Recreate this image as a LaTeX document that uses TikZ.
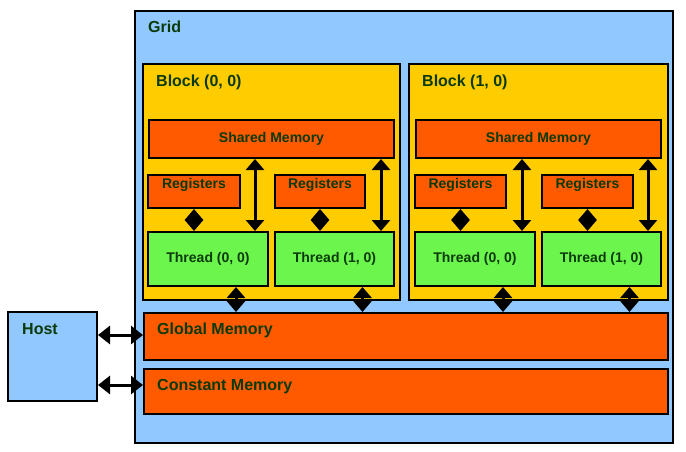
\documentclass[tikz,border=0pt]{standalone}
\usepackage{fontspec}
\setmainfont{Liberation Sans}
\usetikzlibrary{arrows.meta,calc}
\definecolor{gridblue}{HTML}{90C8FF}
\definecolor{blockyellow}{HTML}{FFCC00}
\definecolor{memorange}{HTML}{FF5A00}
\definecolor{threadgreen}{HTML}{6CF54C}
\definecolor{txtgreen}{HTML}{0A3A0A}
\tikzset{
  box/.style={draw=black, line width=2pt, rectangle, inner sep=0pt, anchor=north west, text=txtgreen, font=\bfseries\fontsize{14}{16}\selectfont},
  gridbox/.style={box, fill=gridblue},
  blockbox/.style={box, fill=blockyellow},
  membox/.style={box, fill=memorange},
  threadbox/.style={box, fill=threadgreen},
  biglab/.style={inner sep=0pt, anchor=north west, text=txtgreen, font=\bfseries\fontsize{16}{18}\selectfont},
  smalllab/.style={inner sep=0pt, anchor=north, text=txtgreen, font=\bfseries\fontsize{14}{16}\selectfont},
  arr/.style={line width=3pt, {Triangle[width=18pt,length=11pt]}-{Triangle[width=18pt,length=11pt]}},
  harr/.style={line width=3pt, {Triangle[width=18pt,length=12pt]}-{Triangle[width=18pt,length=12pt]}},
}
\begin{document}
\begin{tikzpicture}[x=1pt,y=-1pt]
\useasboundingbox[fill=white] (0,0) rectangle (686,451);
% Grid
\node[gridbox, minimum width=538pt, minimum height=432pt,
  label={[biglab, xshift=14pt, yshift=-11pt]north west:Grid}] (grid) at (134,10) {};
% Host
\node[gridbox, minimum width=89pt, minimum height=89pt,
  label={[biglab, xshift=15pt, yshift=-12pt]north west:Host}] (host) at (7,311) {};
% Blocks
\node[blockbox, minimum width=257pt, minimum height=236pt,
  label={[biglab, xshift=14pt, yshift=-12pt]north west:Block (0, 0)}] (b0) at (142,63) {};
\node[blockbox, minimum width=259pt, minimum height=236pt,
  label={[biglab, xshift=14pt, yshift=-12pt]north west:Block (1, 0)}] (b1) at (408,63) {};
% Shared memories
\node[membox, minimum width=245pt, minimum height=38pt] (sm0) at (148,119) {Shared Memory};
\node[membox, minimum width=245pt, minimum height=38pt] (sm1) at (415,119) {Shared Memory};
% Registers
\node[membox, minimum width=92pt, minimum height=33pt,
  label={[smalllab, yshift=-4pt]north:Registers}] (r00) at (147,174) {};
\node[membox, minimum width=90pt, minimum height=33pt,
  label={[smalllab, yshift=-4pt]north:Registers}] (r10) at (274,174) {};
\node[membox, minimum width=91pt, minimum height=33pt,
  label={[smalllab, yshift=-4pt]north:Registers}] (r01) at (414,174) {};
\node[membox, minimum width=91pt, minimum height=33pt,
  label={[smalllab, yshift=-4pt]north:Registers}] (r11) at (541,174) {};
% Threads
\node[threadbox, minimum width=120pt, minimum height=54pt] (t00) at (147,231) {Thread (0, 0)};
\node[threadbox, minimum width=119pt, minimum height=54pt] (t10) at (274,231) {Thread (1, 0)};
\node[threadbox, minimum width=120pt, minimum height=54pt] (t01) at (414,231) {Thread (0, 0)};
\node[threadbox, minimum width=119pt, minimum height=54pt] (t11) at (541,231) {Thread (1, 0)};
% Global / constant memory
\node[membox, minimum width=524pt, minimum height=47pt,
  label={[biglab, xshift=14pt, yshift=-11pt]north west:Global Memory}] (gm) at (143,312) {};
\node[membox, minimum width=524pt, minimum height=45pt,
  label={[biglab, xshift=14pt, yshift=-11pt]north west:Constant Memory}] (cm) at (143,368) {};
% Register <-> thread
\foreach \r/\t in {r00/t00, r10/t10, r01/t01, r11/t11} {
  \draw[arr] (\r.south) -- (\t.north -| \r.south);
}
% Shared <-> thread
\foreach \s/\t in {sm0/t00, sm0/t10, sm1/t01, sm1/t11} {
  \draw[arr] ([xshift=-14pt]\t.north east |- \s.south) -- ([xshift=-14pt]\t.north east);
}
% Thread <-> global
\foreach \t in {t00, t10, t01, t11} {
  \draw[arr] ([xshift=28pt]\t.south) -- ([xshift=28pt]\t.south |- gm.north);
}
% Host <-> memories
\coordinate (ga) at ($(gm.west)+(0,-1.5)$);
\coordinate (ca) at ($(cm.west)+(0,-6.5)$);
\draw[harr] (host.east |- ga) -- (ga);
\draw[harr] (host.east |- ca) -- (ca);
\end{tikzpicture}
\end{document}
